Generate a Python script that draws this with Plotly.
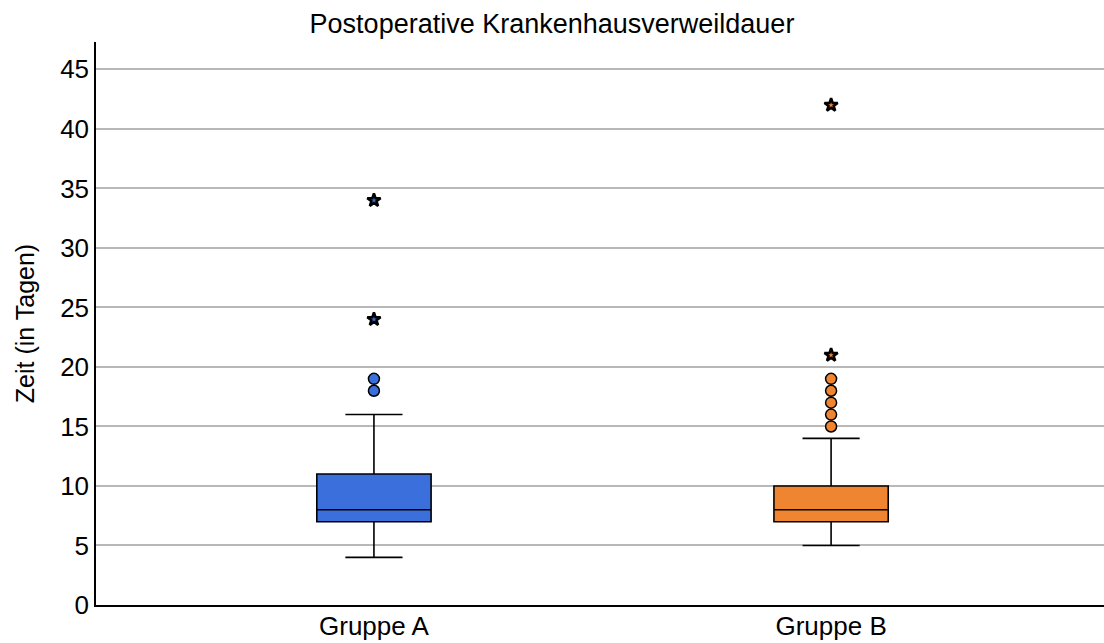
import plotly.graph_objects as go

groups = ["Gruppe A", "Gruppe B"]
positions = [0, 1]
q1 = [7, 7]
median = [8, 8]
q3 = [11, 10]
lower_whisker = [4, 5]
upper_whisker = [16, 14]
outliers_circle = [[18, 19], [15, 16, 17, 18, 19]]
outliers_star = [[24, 34], [21, 42]]
colors = ["#3b6fdc", "#f08531"]

fig = go.Figure()
for i in range(2):
    fig.add_trace(go.Box(
        x=[positions[i]], q1=[q1[i]], median=[median[i]], q3=[q3[i]],
        lowerfence=[lower_whisker[i]], upperfence=[upper_whisker[i]],
        width=0.25, whiskerwidth=0.5, fillcolor=colors[i],
        line=dict(color="black", width=1.6), boxpoints=False,
        showlegend=False, hoverinfo="skip"))
    fig.add_trace(go.Scatter(
        x=[positions[i]] * len(outliers_circle[i]), y=outliers_circle[i],
        mode="markers", showlegend=False,
        marker=dict(symbol="circle", size=11, color=colors[i],
                    line=dict(color="black", width=1.5))))
    fig.add_trace(go.Scatter(
        x=[positions[i]] * len(outliers_star[i]), y=outliers_star[i],
        mode="markers", showlegend=False,
        marker=dict(symbol="star", size=10, color=colors[i],
                    line=dict(color="black", width=2.5))))

fig.update_layout(
    width=1104, height=643,
    margin=dict(l=96, r=0, t=42, b=38),
    paper_bgcolor="white", plot_bgcolor="white",
    font=dict(family="Liberation Sans, Arial", color="black", size=24),
    title=dict(text="Postoperative Krankenhausverweildauer", x=0.5, xanchor="center",
               y=1 - 24 / 643, yanchor="middle", font=dict(size=27)),
    xaxis=dict(range=[-0.608, 1.597], tickvals=positions, ticktext=groups,
               showgrid=False, zeroline=False, showline=True, linecolor="black",
               linewidth=1.5, ticks="", tickfont=dict(size=26), automargin=False,
               ticklabelstandoff=-3),
    yaxis=dict(range=[0, 47.3], tickvals=list(range(0, 50, 5)), showgrid=True,
               gridcolor="#b8b8b8", gridwidth=1.5, zeroline=False, showline=True,
               linecolor="black", linewidth=1.5, ticks="", automargin=False,
               title=dict(text="Zeit (in Tagen)", standoff=18, font=dict(size=25)),
               tickfont=dict(size=26)),
)
fig.write_html("out.html")
